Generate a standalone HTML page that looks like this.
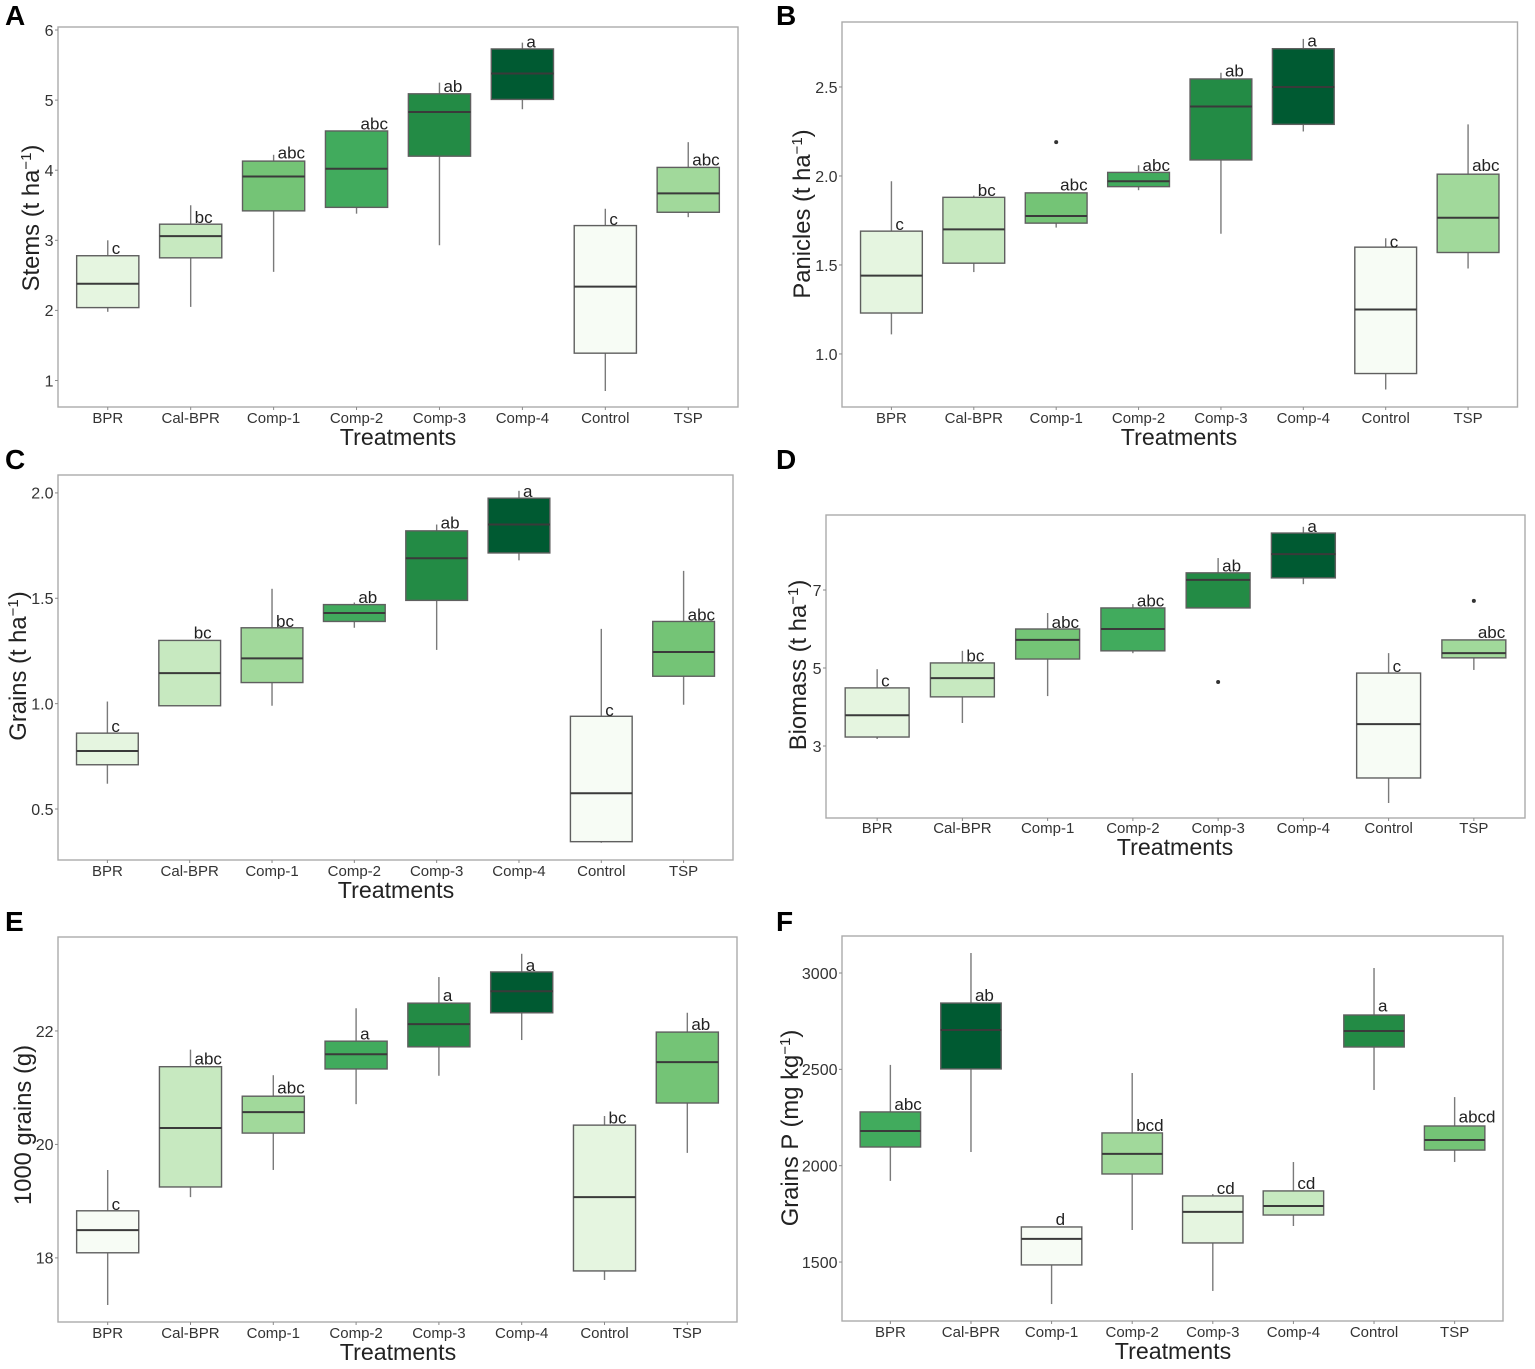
<!DOCTYPE html>
<html lang="en">
<head>
<meta charset="utf-8">
<title>Treatment boxplots</title>
<style>
html,body{margin:0;padding:0;background:#fff;}
svg{display:block;font-family:"Liberation Sans",sans-serif;}
</style>
</head>
<body>
<svg id="figure" xmlns="http://www.w3.org/2000/svg" width="1535" height="1369" viewBox="0 0 1535 1369"></svg>
<script>
// Shared
const categories = ['BPR','Cal-BPR','Comp-1','Comp-2','Comp-3','Comp-4','Control','TSP'];

// Panel A: Stems
const stemsLow = [1.98,2.05,2.55,3.38,2.93,4.87,0.85,3.33];
const stemsQ1 = [2.04,2.75,3.42,3.47,4.20,5.01,1.39,3.40];
const stemsMedian = [2.38,3.06,3.91,4.02,4.83,5.38,2.34,3.67];
const stemsQ3 = [2.78,3.23,4.13,4.56,5.09,5.73,3.21,4.04];
const stemsHigh = [3.00,3.50,4.22,4.56,5.25,5.82,3.45,4.40];
const stemsLetters = ['c','bc','abc','abc','ab','a','c','abc'];
const stemsLetterAt = [2.89,3.33,4.25,4.66,5.20,5.83,3.30,4.15];
const stemsTicks = ['1','2','3','4','5','6'];
const stemsOutlierCat = [];
const stemsOutlierVal = [];
const stemsFills = ['#E5F5E0','#C7E9C0','#74C476','#41AB5D','#238B45','#005A32','#F7FCF5','#A1D99B'];

// Panel B: Panicles
const paniclesLow = [1.11,1.46,1.71,1.92,1.675,2.25,0.80,1.48];
const paniclesQ1 = [1.23,1.51,1.735,1.94,2.09,2.29,0.89,1.57];
const paniclesMedian = [1.44,1.70,1.775,1.97,2.39,2.50,1.25,1.765];
const paniclesQ3 = [1.69,1.88,1.905,2.02,2.545,2.715,1.60,2.01];
const paniclesHigh = [1.97,1.89,1.905,2.06,2.58,2.77,1.65,2.29];
const paniclesLetters = ['c','bc','abc','abc','ab','a','c','abc'];
const paniclesLetterAt = [1.73,1.92,1.95,2.06,2.59,2.76,1.63,2.06];
const paniclesTicks = ['1.0','1.5','2.0','2.5'];
const paniclesOutlierCat = ['Comp-1'];
const paniclesOutlierVal = [2.19];
const paniclesFills = ['#E5F5E0','#C7E9C0','#74C476','#41AB5D','#238B45','#005A32','#F7FCF5','#A1D99B'];

// Panel C: Grains
const grainsLow = [0.62,0.99,0.99,1.36,1.255,1.68,0.34,0.995];
const grainsQ1 = [0.71,0.99,1.10,1.39,1.49,1.715,0.345,1.13];
const grainsMedian = [0.775,1.145,1.215,1.43,1.69,1.85,0.575,1.245];
const grainsQ3 = [0.86,1.30,1.36,1.47,1.82,1.975,0.94,1.39];
const grainsHigh = [1.01,1.30,1.545,1.48,1.85,2.01,1.355,1.63];
const grainsLetters = ['c','bc','bc','ab','ab','a','c','abc'];
const grainsLetterAt = [0.894,1.336,1.392,1.506,1.858,2.009,0.97,1.421];
const grainsTicks = ['0.5','1.0','1.5','2.0'];
const grainsOutlierCat = [];
const grainsOutlierVal = [];
const grainsFills = ['#E5F5E0','#C7E9C0','#A1D99B','#41AB5D','#238B45','#005A32','#F7FCF5','#74C476'];

// Panel D: Biomass
const biomassLow = [3.18,3.59,4.28,5.38,6.54,7.15,1.54,4.95];
const biomassQ1 = [3.23,4.26,5.23,5.44,6.54,7.31,2.18,5.26];
const biomassMedian = [3.79,4.74,5.72,6.00,7.26,7.92,3.56,5.38];
const biomassQ3 = [4.49,5.13,6.00,6.54,7.44,8.46,4.87,5.72];
const biomassHigh = [4.97,5.44,6.41,6.64,7.82,8.62,5.38,5.72];
const biomassLetters = ['c','bc','abc','abc','ab','a','c','abc'];
const biomassLetterAt = [4.67,5.31,6.18,6.72,7.62,8.64,5.05,5.92];
const biomassTicks = ['3','5','7'];
const biomassOutlierCat = ['Comp-3','TSP'];
const biomassOutlierVal = [4.64,6.72];
const biomassFills = ['#E5F5E0','#C7E9C0','#74C476','#41AB5D','#238B45','#005A32','#F7FCF5','#A1D99B'];

// Panel E: 1000 grains
const thousandLow = [17.17,19.07,19.55,20.71,21.21,21.84,17.61,19.85];
const thousandQ1 = [18.09,19.25,20.20,21.33,21.72,22.32,17.77,20.73];
const thousandMedian = [18.49,20.29,20.57,21.59,22.12,22.70,19.07,21.45];
const thousandQ3 = [18.83,21.37,20.85,21.82,22.49,23.04,20.34,21.98];
const thousandHigh = [19.55,21.67,21.22,22.40,22.95,23.36,20.50,22.32];
const thousandLetters = ['c','abc','abc','a','a','a','bc','ab'];
const thousandLetterAt = [18.95,21.51,21.00,21.95,22.63,23.16,20.47,22.12];
const thousandTicks = ['18','20','22'];
const thousandOutlierCat = [];
const thousandOutlierVal = [];
const thousandFills = ['#F7FCF5','#C7E9C0','#A1D99B','#41AB5D','#238B45','#005A32','#E5F5E0','#74C476'];

// Panel F: Grains P
const grainsPLow = [1921,2071,1282,1666,1350,1687,2393,2019];
const grainsPQ1 = [2097,2502,1485,1957,1599,1744,2616,2081];
const grainsPMedian = [2180,2704,1620,2061,1760,1791,2699,2133];
const grainsPQ3 = [2279,2844,1682,2170,1843,1869,2782,2206];
const grainsPHigh = [2523,3104,1682,2481,1853,2019,3026,2356];
const grainsPLetters = ['abc','ab','d','bcd','cd','cd','a','abcd'];
const grainsPLetterAt = [2320,2886,1723,2211,1884,1910,2829,2253];
const grainsPTicks = ['1500','2000','2500','3000'];
const grainsPOutlierCat = [];
const grainsPOutlierVal = [];
const grainsPFills = ['#41AB5D','#005A32','#F7FCF5','#A1D99B','#E5F5E0','#C7E9C0','#238B45','#74C476'];

const NS = 'http://www.w3.org/2000/svg';
const root = document.getElementById('figure');

function make(parent, tag, attrs, text) {
  const el = document.createElementNS(NS, tag);
  for (const k in attrs) el.setAttribute(k, attrs[k]);
  if (text !== undefined) el.textContent = text;
  parent.appendChild(el);
  return el;
}

function drawPanel(cfg) {
  const g = make(root, 'g', {});
  
  

  const xOf = i => cfg.left + (0.6 + i) * (cfg.right - cfg.left) / 8.2;
  const yOf = v => cfg.bottom - (v - cfg.yMin) * (cfg.bottom - cfg.top) / (cfg.yMax - cfg.yMin);
  const band = (cfg.right - cfg.left) / 8.2;
  const boxW = band * 0.75;

  const letter = make(g, 'text', {x: cfg.letterX, y: cfg.letterY, 'font-size': 28, 'font-weight': 'bold', fill: '#000'}, cfg.id);
  
  

  const frame = make(g, 'rect', {x: cfg.left, y: cfg.top, width: cfg.right - cfg.left, height: cfg.bottom - cfg.top, fill: '#fff', stroke: '#ababab', 'stroke-width': 1.4});
  
  

  cfg.ticks.forEach(t => {
    const y = yOf(parseFloat(t));
    const tick = make(g, 'line', {x1: cfg.left - 3, x2: cfg.left, y1: y, y2: y, stroke: '#8a8a8a', 'stroke-width': 1});
    
    
    const label = make(g, 'text', {x: cfg.left - 4.5, y: y + 5.8, 'text-anchor': 'end', 'font-size': 16, fill: '#333'}, t);
    
    
  });

  categories.forEach((c, i) => {
    const x = xOf(i);
    const tick = make(g, 'line', {x1: x, x2: x, y1: cfg.bottom, y2: cfg.bottom + 3, stroke: '#8a8a8a', 'stroke-width': 1});
    
    
    const label = make(g, 'text', {x: x, y: cfg.tickBase, 'text-anchor': 'middle', 'font-size': 15, fill: '#333'}, c);
    
    

    const box = make(g, 'g', {});
    
    
    make(box, 'line', {x1: x, x2: x, y1: yOf(cfg.high[i]), y2: yOf(cfg.low[i]), stroke: '#7a7a7a', 'stroke-width': 1.4});
    make(box, 'rect', {x: x - boxW / 2, y: yOf(cfg.q3[i]), width: boxW, height: yOf(cfg.q1[i]) - yOf(cfg.q3[i]), fill: cfg.fills[i], stroke: '#5f5f5f', 'stroke-width': 1.4});
    make(box, 'line', {x1: x - boxW / 2, x2: x + boxW / 2, y1: yOf(cfg.median[i]), y2: yOf(cfg.median[i]), stroke: '#3a3a3a', 'stroke-width': 2});

    const sig = make(g, 'text', {x: x + 4, y: yOf(cfg.letterAt[i]) + 5.8, 'font-size': 17, fill: '#222'}, cfg.letters[i]);
    
    
  });

  cfg.outlierCat.forEach((c, k) => {
    const dot = make(g, 'circle', {cx: xOf(categories.indexOf(c)), cy: yOf(cfg.outlierVal[k]), r: 2, fill: '#333'});
    
    
  });

  const xTitle = make(g, 'text', {x: cfg.xTitleX, y: cfg.xTitleY, 'text-anchor': 'middle', 'font-size': 23.2, fill: '#222'}, 'Treatments');
  
  

  const yTitle = make(g, 'text', {transform: 'translate(' + cfg.yTitleX + ',' + cfg.yTitleY + ') rotate(-90)', 'text-anchor': 'middle', 'font-size': 23.8, fill: '#222'});
  
  
  make(yTitle, 'tspan', {}, cfg.yTitle);
  if (cfg.yUnit) {
    make(yTitle, 'tspan', {dy: -8, 'font-size': 15}, '\u22121');
    make(yTitle, 'tspan', {dy: 8}, ')');
  }
}

drawPanel({id:'A', left:58, right:738, top:27, bottom:407, yMin:0.622, yMax:6.043,
  low:stemsLow, q1:stemsQ1, median:stemsMedian, q3:stemsQ3, high:stemsHigh, letters:stemsLetters, letterAt:stemsLetterAt,
  ticks:stemsTicks, outlierCat:stemsOutlierCat, outlierVal:stemsOutlierVal, fills:stemsFills,
  letterX:5, letterY:25, tickBase:423, xTitleX:398, xTitleY:445, yTitleX:39, yTitleY:218, yTitle:'Stems (t ha', yUnit:true});

drawPanel({id:'B', left:842, right:1517.5, top:22, bottom:407, yMin:0.702, yMax:2.865,
  low:paniclesLow, q1:paniclesQ1, median:paniclesMedian, q3:paniclesQ3, high:paniclesHigh, letters:paniclesLetters, letterAt:paniclesLetterAt,
  ticks:paniclesTicks, outlierCat:paniclesOutlierCat, outlierVal:paniclesOutlierVal, fills:paniclesFills,
  letterX:776, letterY:25, tickBase:423, xTitleX:1179, xTitleY:445, yTitleX:810, yTitleY:214, yTitle:'Panicles (t ha', yUnit:true});

drawPanel({id:'C', left:58, right:733, top:475, bottom:860, yMin:0.258, yMax:2.085,
  low:grainsLow, q1:grainsQ1, median:grainsMedian, q3:grainsQ3, high:grainsHigh, letters:grainsLetters, letterAt:grainsLetterAt,
  ticks:grainsTicks, outlierCat:grainsOutlierCat, outlierVal:grainsOutlierVal, fills:grainsFills,
  letterX:5, letterY:469, tickBase:876, xTitleX:396, xTitleY:898, yTitleX:26, yTitleY:666, yTitle:'Grains (t ha', yUnit:true});

drawPanel({id:'D', left:826, right:1525, top:515, bottom:818, yMin:1.154, yMax:8.923,
  low:biomassLow, q1:biomassQ1, median:biomassMedian, q3:biomassQ3, high:biomassHigh, letters:biomassLetters, letterAt:biomassLetterAt,
  ticks:biomassTicks, outlierCat:biomassOutlierCat, outlierVal:biomassOutlierVal, fills:biomassFills,
  letterX:776, letterY:469, tickBase:833, xTitleX:1175, xTitleY:855, yTitleX:806, yTitleY:665, yTitle:'Biomass (t ha', yUnit:true});

drawPanel({id:'E', left:58, right:737, top:937, bottom:1322, yMin:16.87, yMax:23.656,
  low:thousandLow, q1:thousandQ1, median:thousandMedian, q3:thousandQ3, high:thousandHigh, letters:thousandLetters, letterAt:thousandLetterAt,
  ticks:thousandTicks, outlierCat:thousandOutlierCat, outlierVal:thousandOutlierVal, fills:thousandFills,
  letterX:5, letterY:931, tickBase:1338, xTitleX:398, xTitleY:1360, yTitleX:31, yTitleY:1125, yTitle:'1000 grains (g)', yUnit:false});

drawPanel({id:'F', left:842, right:1503, top:936, bottom:1321, yMin:1194, yMax:3192,
  low:grainsPLow, q1:grainsPQ1, median:grainsPMedian, q3:grainsPQ3, high:grainsPHigh, letters:grainsPLetters, letterAt:grainsPLetterAt,
  ticks:grainsPTicks, outlierCat:grainsPOutlierCat, outlierVal:grainsPOutlierVal, fills:grainsPFills,
  letterX:776, letterY:931, tickBase:1337, xTitleX:1173, xTitleY:1359, yTitleX:798, yTitleY:1128, yTitle:'Grains P (mg kg', yUnit:true});
</script>
</body>
</html>
